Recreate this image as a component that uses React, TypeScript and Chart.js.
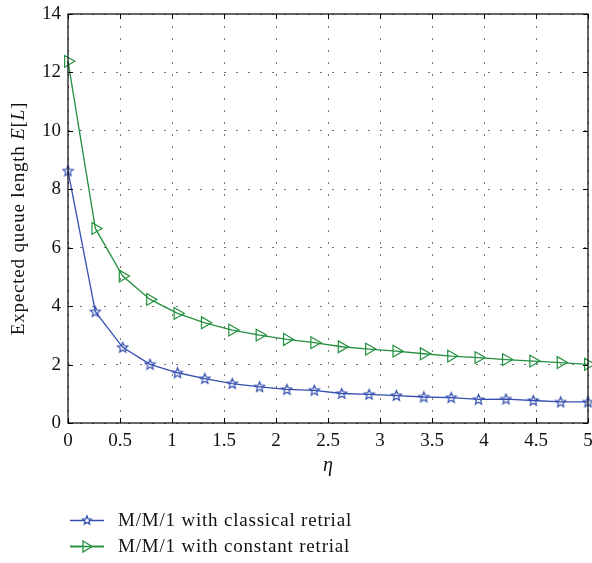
import React, { useEffect, useRef } from "react";
import { Chart, registerables } from "chart.js";

Chart.register(...registerables);

const etaValues = [0, 0.263, 0.526, 0.789, 1.053, 1.316, 1.579, 1.842, 2.105, 2.368, 2.632, 2.895, 3.158, 3.421, 3.684, 3.947, 4.211, 4.474, 4.737, 5];
const classicalRetrial = [8.63, 3.81, 2.59, 2.01, 1.72, 1.52, 1.35, 1.24, 1.15, 1.12, 1.01, 0.98, 0.94, 0.89, 0.87, 0.81, 0.82, 0.77, 0.72, 0.72];
const constantRetrial = [12.38, 6.66, 5.03, 4.23, 3.75, 3.43, 3.18, 3.01, 2.86, 2.75, 2.61, 2.53, 2.46, 2.37, 2.29, 2.24, 2.17, 2.12, 2.07, 2.01];
const seriesLabels = ["M/M/1 with classical retrial", "M/M/1 with constant retrial"];
const xTicks = [0, 0.5, 1, 1.5, 2, 2.5, 3, 3.5, 4, 4.5, 5];
const yTicks = [0, 2, 4, 6, 8, 10, 12, 14];

const BLUE = "#3550b0";
const GREEN = "#23903f";
const FONT = "'Liberation Serif', 'DejaVu Serif', serif";

function drawStarPath(ctx: CanvasRenderingContext2D, cx: number, cy: number, R: number) {
  const r = R * 0.45;
  ctx.beginPath();
  for (let i = 0; i < 10; i++) {
    const rad = i % 2 === 0 ? R : r;
    const a = -Math.PI / 2 + (i * Math.PI) / 5;
    const x = cx + rad * Math.cos(a);
    const y = cy + rad * Math.sin(a);
    if (i === 0) ctx.moveTo(x, y);
    else ctx.lineTo(x, y);
  }
  ctx.closePath();
}

function makeStarCanvas(): HTMLCanvasElement {
  const c = document.createElement("canvas");
  c.width = 13;
  c.height = 13;
  const ctx = c.getContext("2d")!;
  ctx.strokeStyle = BLUE;
  ctx.lineWidth = 1.2;
  drawStarPath(ctx, 6.5, 6.9, 5.3);
  ctx.stroke();
  return c;
}

const zeroPad = (s: any) => {
  s.paddingLeft = 0;
  s.paddingRight = 0;
  s.paddingTop = 0;
  s.paddingBottom = 0;
};

const framePlugin = {
  id: "framePlugin",
  afterDraw(chart: any) {
    const ctx = chart.ctx as CanvasRenderingContext2D;
    const { left, right, top, bottom } = chart.chartArea;
    const xs = chart.scales.x;
    const ys = chart.scales.y;
    ctx.save();
    ctx.strokeStyle = "#000";
    ctx.lineWidth = 1.2;
    ctx.strokeRect(left, top, right - left, bottom - top);
    ctx.lineWidth = 1;
    ctx.beginPath();
    const tl = 5;
    for (const v of xTicks) {
      const px = Math.round(xs.getPixelForValue(v)) + 0.5;
      ctx.moveTo(px, bottom);
      ctx.lineTo(px, bottom - tl);
      ctx.moveTo(px, top);
      ctx.lineTo(px, top + tl);
    }
    for (const v of yTicks) {
      const py = Math.round(ys.getPixelForValue(v)) + 0.5;
      ctx.moveTo(left, py);
      ctx.lineTo(left + tl, py);
      ctx.moveTo(right, py);
      ctx.lineTo(right - tl, py);
    }
    ctx.stroke();

    (ctx as any).letterSpacing = "0.8px";
    // y-axis title with italic E[L]
    const cy = (top + bottom) / 2;
    ctx.translate(19, cy);
    ctx.rotate(-Math.PI / 2);
    const parts: [string, boolean][] = [
      ["Expected queue length ", false],
      ["E", true],
      ["[", false],
      ["L", true],
      ["]", false],
    ];
    const fontN = `19px ${FONT}`;
    const fontI = `italic 19px ${FONT}`;
    let total = 0;
    for (const [t, it] of parts) {
      ctx.font = it ? fontI : fontN;
      total += ctx.measureText(t).width;
    }
    let x = -total / 2;
    ctx.fillStyle = "#111";
    ctx.textBaseline = "middle";
    ctx.textAlign = "left";
    for (const [t, it] of parts) {
      ctx.font = it ? fontI : fontN;
      ctx.fillText(t, x, 0);
      x += ctx.measureText(t).width;
    }
    ctx.setTransform(1, 0, 0, 1, 0, 0);

    // x-axis title
    (ctx as any).letterSpacing = "0px";
    ctx.font = `italic 20px ${FONT}`;
    ctx.textAlign = "center";
    ctx.textBaseline = "middle";
    ctx.fillText("η", (left + right) / 2, 466);

    // legend
    const rows = [
      { y: 520, color: BLUE, label: seriesLabels[0], kind: "star" },
      { y: 546, color: GREEN, label: seriesLabels[1], kind: "tri" },
    ];
    for (const r of rows) {
      ctx.strokeStyle = r.color;
      ctx.lineWidth = 1.3;
      ctx.beginPath();
      ctx.moveTo(70, r.y + 0.5);
      ctx.lineTo(104, r.y + 0.5);
      ctx.stroke();
      if (r.kind === "star") {
        ctx.fillStyle = "#fff";
        drawStarPath(ctx, 87, r.y + 0.5, 4.5);
        ctx.fill();
        ctx.stroke();
      } else {
        ctx.beginPath();
        ctx.moveTo(83, r.y - 5);
        ctx.lineTo(92, r.y + 0.5);
        ctx.lineTo(83, r.y + 6);
        ctx.closePath();
        ctx.fillStyle = "#fff";
        ctx.fill();
        ctx.stroke();
        ctx.beginPath();
        ctx.moveTo(70, r.y + 0.5);
        ctx.lineTo(104, r.y + 0.5);
        ctx.stroke();
      }
      ctx.fillStyle = "#111";
      ctx.font = `19px ${FONT}`;
      (ctx as any).letterSpacing = "0.8px";
      ctx.textAlign = "left";
      ctx.textBaseline = "middle";
      ctx.fillText(r.label, 118, r.y + 1);
      (ctx as any).letterSpacing = "0px";
    }
    ctx.restore();
  },
};

export default function App() {
  const canvasRef = useRef<HTMLCanvasElement | null>(null);

  useEffect(() => {
    const canvas = canvasRef.current;
    if (!canvas) return;
    const star = makeStarCanvas();
    const chart = new Chart(canvas, {
      type: "line",
      data: {
        datasets: [
          {
            label: seriesLabels[0],
            data: etaValues.map((x, i) => ({ x, y: classicalRetrial[i] })),
            borderColor: BLUE,
            backgroundColor: BLUE,
            borderWidth: 1.3,
            pointStyle: star as any,
            pointRadius: 5,
            clip: false as any,
            tension: 0,
          },
          {
            label: seriesLabels[1],
            data: etaValues.map((x, i) => ({ x, y: constantRetrial[i] })),
            borderColor: GREEN,
            backgroundColor: "rgba(0,0,0,0)",
            borderWidth: 1.3,
            pointStyle: "triangle",
            rotation: 90,
            pointRadius: 6.8,
            pointBorderWidth: 1.2,
            pointBorderColor: GREEN,
            pointBackgroundColor: "rgba(0,0,0,0)",
            clip: false as any,
            tension: 0,
          },
        ],
      },
      options: {
        responsive: false,
        animation: false,
        layout: { autoPadding: false, padding: { top: 14, right: 4, left: 0, bottom: 0 } },
        plugins: {
          legend: { display: false },
          tooltip: { enabled: false },
        },
        scales: {
          x: {
            type: "linear",
            min: 0,
            max: 5,
            afterFit: (s: any) => {
              s.height = 140;
              zeroPad(s);
            },
            afterBuildTicks: (s: any) => {
              s.ticks = xTicks.map((v) => ({ value: v }));
            },
            grid: {
              color: "#777",
              lineWidth: 1,
              drawTicks: false,
            },
            border: { display: false, dash: [2, 10] },
            ticks: {
              color: "#111",
              font: { family: FONT, size: 19 },
              padding: 7,
              maxRotation: 0,
              autoSkip: false,
              callback: (v: any) => String(v),
            },
          },
          y: {
            type: "linear",
            min: 0,
            max: 14,
            afterFit: (s: any) => {
              s.width = 68;
              zeroPad(s);
            },
            afterBuildTicks: (s: any) => {
              s.ticks = yTicks.map((v) => ({ value: v }));
            },
            grid: {
              color: "#777",
              lineWidth: 1,
              drawTicks: false,
            },
            border: { display: false, dash: [2, 10] },
            ticks: {
              color: "#111",
              font: { family: FONT, size: 19 },
              padding: 7,
              autoSkip: false,
              callback: (v: any) => String(v),
            },
          },
        },
      },
      plugins: [framePlugin],
    });
    return () => chart.destroy();
  }, []);

  return (
    <div style={{ position: "fixed", left: 0, top: 0, width: 592, height: 563, background: "#fff" }}>
      <canvas ref={canvasRef} width={592} height={563} style={{ width: 592, height: 563 }} />
    </div>
  );
}
